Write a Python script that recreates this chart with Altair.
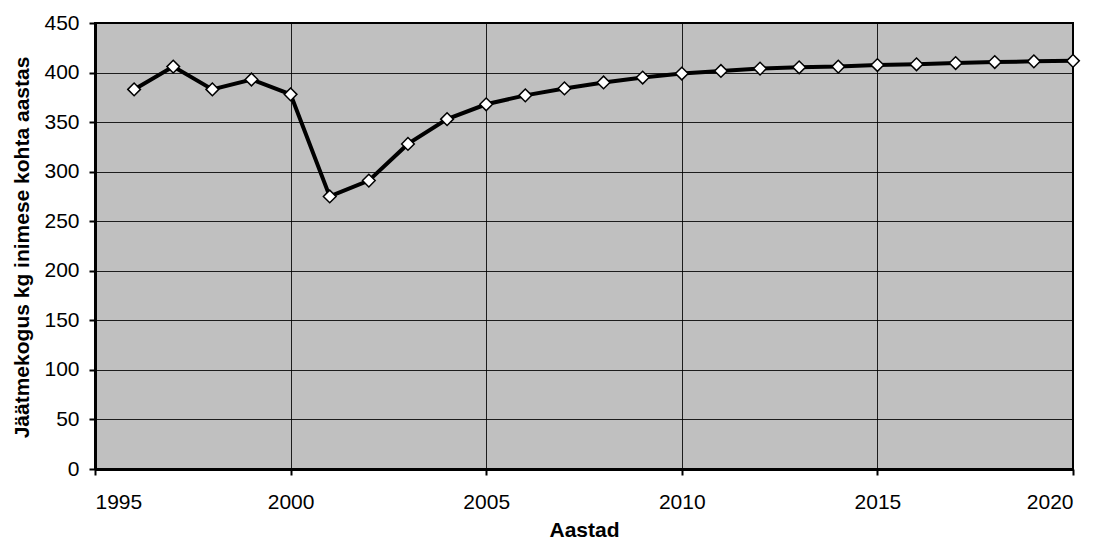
import altair as alt
import pandas as pd

# Annual waste per person (kg), 1996-2020
years = list(range(1996, 2021))
waste_kg = [383, 406, 383, 393, 378, 275, 291, 328, 353, 368,
            377, 384, 390, 395, 399, 401.6, 404, 405.3, 406, 407.6,
            408.3, 409.6, 410.6, 411.3, 411.8]

x_ticks = [1995, 2000, 2005, 2010, 2015, 2020]
y_ticks = list(range(0, 451, 50))

df = pd.DataFrame({"aasta": years, "kg": waste_kg})

FONT = "Liberation Sans"
LABEL_SIZE = 21
TITLE_SIZE = 21

common_axis = dict(
    labelFont=FONT, labelFontSize=LABEL_SIZE, labelColor="black",
    titleFont=FONT, titleFontSize=TITLE_SIZE, titleFontWeight="bold", titleColor="black",
    domainColor="black", domainWidth=3,
    tickColor="black", tickWidth=2, tickSize=6,
    grid=True, gridColor="black", gridWidth=1, gridOpacity=0.85,
)

x_enc = alt.X(
    "aasta:Q",
    scale=alt.Scale(domain=[1995, 2020], nice=False, zero=False),
    axis=alt.Axis(
        title="Aastad", values=x_ticks, format="d",
        titleX=489, titleY=67, titleBaseline="alphabetic",
        labelPadding=16, **common_axis,
    ),
)
y_enc = alt.Y(
    "kg:Q",
    scale=alt.Scale(domain=[0, 450], nice=False),
    axis=alt.Axis(
        title="Jäätmekogus kg inimese kohta aastas", values=y_ticks,
        titleX=-67, titleY=224, titleBaseline="alphabetic", titleAngle=-90,
        labelPadding=10, **common_axis,
    ),
)

line = alt.Chart(df).mark_line(color="black", strokeWidth=4).encode(x=x_enc, y=y_enc)
points = alt.Chart(df).mark_point(
    shape="diamond", size=160, filled=True, fill="white",
    stroke="black", strokeWidth=1.5, opacity=1,
).encode(x="aasta:Q", y="kg:Q")

chart = (
    alt.layer(line, points)
    .properties(
        width=978, height=446,
        autosize=alt.AutoSizeParams(type="none"),
        padding={"left": 95, "top": 23, "right": 27, "bottom": 75},
        background="white",
    )
    .configure_view(fill="#C0C0C0", stroke="black", strokeWidth=2)
)

chart.save("out.html", embed_options={"renderer": "svg", "actions": False})
